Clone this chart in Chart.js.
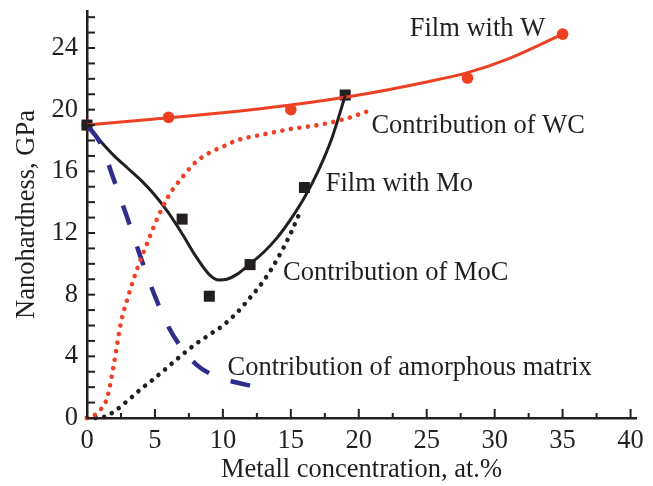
<!DOCTYPE html>
<html>
<head>
<meta charset="utf-8">
<script src="https://cdn.jsdelivr.net/npm/chart.js@4"></script>
<style>
    html, body { margin: 0; padding: 0; background: #fff; }
    #wrap { width: 653px; height: 486px; }
</style>
</head>
<body>
<div id="wrap"><canvas id="hardChart" width="653" height="486"></canvas></div>
<script>
// values
const wPointX = [0, 6, 15, 28, 35];
const wPointY = [19, 19.5, 20, 22.05, 24.9];
const wFitX = [0, 5, 10, 15, 20, 25, 28, 31, 35];
const wFitY = [19, 19.4, 19.8, 20.3, 20.95, 21.8, 22.4, 23.3, 24.9];

const moPointX = [0, 7, 9, 12, 16, 19];
const moPointY = [19, 12.9, 7.9, 9.95, 14.95, 20.95];
const moFitX = [0, 1, 2, 3, 4, 5, 6, 7, 8, 9, 9.7, 10.3, 11, 12, 13, 14, 15, 16, 17, 18, 19];
const moFitY = [19, 17.95, 17.0, 16.2, 15.4, 14.45, 13.3, 11.95, 10.5, 9.3, 8.95, 9.0, 9.3, 10.0, 10.75, 11.7, 12.9, 14.3, 16.0, 18.1, 20.9];

const wcX = [0, 0.5, 1, 1.5, 2, 2.5, 3, 3.5, 4, 4.5, 5, 6, 7, 8, 9, 10, 11, 13, 15, 17, 19, 21];
const wcY = [0, 0.15, 0.55, 1.35, 3.6, 6.2, 7.8, 9.2, 10.4, 11.5, 12.6, 14.4, 15.6, 16.6, 17.2, 17.6, 18.0, 18.4, 18.75, 19.0, 19.4, 20.0];

const mocX = [0, 1, 1.5, 2, 3, 4, 5, 6, 7, 8, 9, 10, 11, 12, 13, 14, 15, 15.6];
const mocY = [0, 0.02, 0.15, 0.42, 1.13, 1.9, 2.6, 3.35, 4.1, 4.8, 5.4, 6.0, 6.8, 7.8, 8.9, 10.3, 12.0, 13.2];

const amorphX = [0, 1, 2, 3, 4, 5, 6, 7, 8, 9, 10, 11, 12, 12.7];
const amorphY = [19, 17.8, 15.4, 12.9, 10.3, 7.9, 5.9, 4.5, 3.5, 2.9, 2.55, 2.3, 2.1, 1.95];

const xTicks = [0, 2.5, 5, 7.5, 10, 12.5, 15, 17.5, 20, 22.5, 25, 27.5, 30, 32.5, 35, 37.5, 40];
const yTicks = [0, 1, 2, 3, 4, 5, 6, 7, 8, 9, 10, 11, 12, 13, 14, 15, 16, 17, 18, 19, 20, 21, 22, 23, 24, 25, 26];

const curveLabels = ['Film with W', 'Contribution of WC', 'Film with Mo', 'Contribution of MoC', 'Contribution of amorphous matrix'];
const labelAnchorX = [23.75, 20.93, 17.57, 14.43, 10.34];
const labelAnchorY = [24.8, 18.49, 14.7, 8.96, 2.79];

const RED = '#ee4023';
const BLACK = '#231f20';
const BLUE = '#2e2d8c';
const FONT = '"Liberation Serif", "Times New Roman", serif';
const FONT_SIZE = 26.5;

const toXY = (xs, ys) => xs.map((x, i) => ({ x: x, y: ys[i] }));

// inward tick marks and curve labels
const decorPlugin = {
    id: 'decor',
    afterDraw(chart) {
        const ctx = chart.ctx;
        const xs = chart.scales.x;
        const ys = chart.scales.y;
        const area = chart.chartArea;
        ctx.save();
        ctx.strokeStyle = BLACK;
        ctx.lineWidth = 2;
        xTicks.forEach(v => {
            const px = xs.getPixelForValue(v);
            const len = v % 5 === 0 ? 9 : 5;
            ctx.beginPath();
            ctx.moveTo(px, area.bottom);
            ctx.lineTo(px, area.bottom - len);
            ctx.stroke();
        });
        yTicks.forEach(v => {
            const py = ys.getPixelForValue(v);
            ctx.beginPath();
            ctx.moveTo(area.left, py);
            ctx.lineTo(area.left + 8, py);
            ctx.stroke();
        });

        ctx.fillStyle = BLACK;
        ctx.font = FONT_SIZE + 'px ' + FONT;
        ctx.textAlign = 'left';
        ctx.textBaseline = 'alphabetic';
        curveLabels.forEach((txt, i) => {
            ctx.fillText(txt, xs.getPixelForValue(labelAnchorX[i]), ys.getPixelForValue(labelAnchorY[i]));
        });
        ctx.restore();
    }
};

const dotted = (color) => ({
    borderColor: color,
    borderWidth: 4.6,
    borderDash: [0.01, 8.6],
    borderCapStyle: 'round',
    pointRadius: 0
});

new Chart(document.getElementById('hardChart'), {
    type: 'line',
    data: {
        datasets: [
            Object.assign({ label: 'Contribution of WC', data: toXY(wcX, wcY) }, dotted(RED)),
            Object.assign({ label: 'Contribution of MoC', data: toXY(mocX, mocY) }, dotted(BLACK)),
            {
                label: 'Contribution of amorphous matrix',
                data: toXY(amorphX, amorphY),
                borderColor: BLUE,
                borderWidth: 4.5,
                borderDash: [20, 23],
                borderDashOffset: -3,
                pointRadius: 0
            },
            {
                label: 'Film with Mo fit',
                data: toXY(moFitX, moFitY),
                borderColor: BLACK,
                borderWidth: 3,
                pointRadius: 0
            },
            {
                label: 'Film with W fit',
                data: toXY(wFitX, wFitY),
                borderColor: RED,
                borderWidth: 3,
                pointRadius: 0
            },
            {
                label: 'Film with Mo',
                data: toXY(moPointX, moPointY),
                showLine: false,
                pointStyle: 'rect',
                pointRadius: 7.8,
                pointBorderWidth: 0,
                pointBackgroundColor: BLACK
            },
            {
                label: 'Film with W',
                data: toXY(wPointX, wPointY),
                showLine: false,
                pointStyle: 'circle',
                pointRadius: 5.8,
                pointBorderWidth: 0,
                pointBackgroundColor: RED
            }
        ]
    },
    options: {
        responsive: false,
        animation: false,
        clip: false,
        cubicInterpolationMode: 'monotone',
        layout: { padding: { top: 11, right: 17, left: 0, bottom: 0 } },
        plugins: {
            legend: { display: false },
            tooltip: { enabled: false }
        },
        scales: {
            x: {
                type: 'linear',
                min: 0,
                max: 40.4,
                afterBuildTicks: (scale) => { scale.ticks = xTicks.map(v => ({ value: v })); },
                afterFit: (scale) => { scale.height = 68; scale.paddingLeft = 0; scale.paddingRight = 0; },
                grid: { display: false, drawTicks: false },
                border: { display: true, color: BLACK, width: 2.5 },
                ticks: {
                    autoSkip: false,
                    maxRotation: 0,
                    padding: 7,
                    color: BLACK,
                    font: { family: FONT, size: FONT_SIZE },
                    callback: (v) => (v % 5 === 0 ? v : '')
                },
                title: {
                    display: true,
                    text: 'Metall concentration, at.%',
                    color: BLACK,
                    font: { family: FONT, size: FONT_SIZE },
                    padding: { top: 0, bottom: 0 }
                }
            },
            y: {
                type: 'linear',
                min: 0,
                max: 26.4,
                afterBuildTicks: (scale) => { scale.ticks = yTicks.map(v => ({ value: v })); },
                afterFit: (scale) => { scale.width = 87; scale.paddingTop = 0; scale.paddingBottom = 0; },
                grid: { display: false, drawTicks: false },
                border: { display: true, color: BLACK, width: 2.5 },
                ticks: {
                    autoSkip: false,
                    padding: 9,
                    color: BLACK,
                    font: { family: FONT, size: FONT_SIZE },
                    callback: (v) => (v % 4 === 0 ? v : '')
                },
                title: {
                    display: true,
                    text: 'Nanohardness, GPa',
                    color: BLACK,
                    font: { family: FONT, size: FONT_SIZE },
                    padding: { top: 11, bottom: 0 }
                }
            }
        }
    },
    plugins: [decorPlugin]
});
</script>
</body>
</html>
